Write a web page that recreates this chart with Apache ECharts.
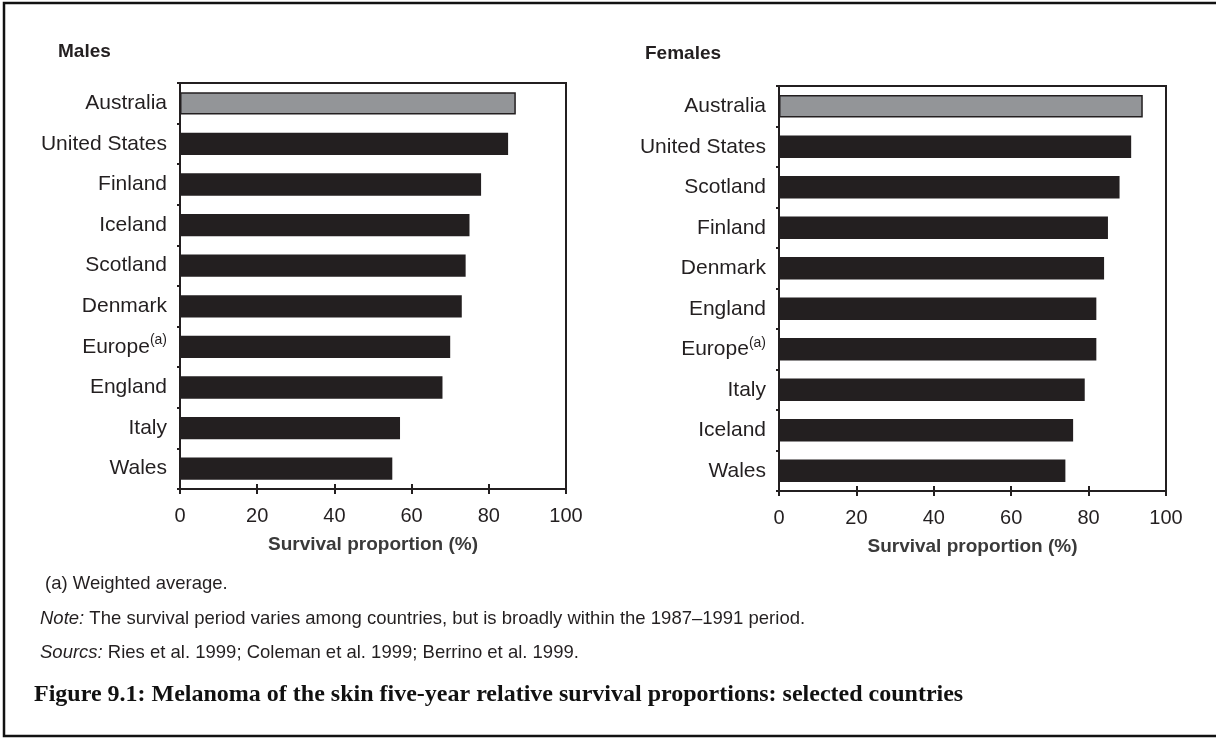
<!DOCTYPE html>
<html>
<head>
<meta charset="utf-8">
<script src="https://cdn.jsdelivr.net/npm/echarts@6/dist/echarts.min.js"></script>
<style>html,body{margin:0;padding:0;background:#fff}#c{width:1216px;height:740px}</style>
</head>
<body>
<div id="c"></div>
<script>
const maleCategories = ['Australia','United States','Finland','Iceland','Scotland','Denmark','Europe(a)','England','Italy','Wales'];
const maleValues = [87,85,78,75,74,73,70,68,57,55];
const femaleCategories = ['Australia','United States','Scotland','Finland','Denmark','England','Europe(a)','Italy','Iceland','Wales'];
const femaleValues = [94,91,88,85,84,82,82,79,76,74];
const xTicks = [0,20,40,60,80,100];
const highlight = 'Australia';

const INK = '#231f20';
const GREY = '#939598';
const FONT = 'Liberation Sans, Arial, sans-serif';

function catLabel(v){
  if (v.indexOf('(a)') >= 0) return '{n|' + v.replace('(a)','') + '}{s|(a)}';
  return '{n|' + v + '}';
}
function barData(cats, vals){
  return vals.map((v,i)=>({
    value: v,
    itemStyle: cats[i] === highlight ? {color: GREY, borderColor: INK, borderWidth: 1.5} : {color: INK}
  }));
}
const grids = [
  {left:180, top:83, width:386, height:406},
  {left:779, top:86, width:387, height:405}
];
const xAxes = [], yAxes = [], series = [];
[[maleCategories, maleValues],[femaleCategories, femaleValues]].forEach((d, gi)=>{
  const base = {
    type:'value', gridIndex: gi, position:'bottom', min: xTicks[0], max: xTicks[xTicks.length-1], interval: 20,
    splitLine:{show:false},
    axisLine:{show:true, lineStyle:{color:INK, width:2}},
  };
  xAxes.push(Object.assign({}, base, {
    axisTick:{show:true, length:5, lineStyle:{color:INK, width:2}},
    axisLabel:{color:INK, fontSize:20, fontFamily:FONT, margin:17},
    name:'Survival proportion (%)', nameLocation:'middle', nameGap:46,
    nameTextStyle:{color:'#3a3a3a', fontSize:19, fontWeight:'bold', fontFamily:FONT}
  }));
  xAxes.push(Object.assign({}, base, {
    axisTick:{show:true, inside:true, length:5, lineStyle:{color:INK, width:2}},
    axisLabel:{show:false}
  }));
  yAxes.push({
    type:'category', gridIndex: gi, data: d[0], inverse: true,
    axisLine:{show:true, lineStyle:{color:INK, width:2}},
    axisTick:{show:true, length:3, lineStyle:{color:INK, width:2}},
    axisLabel:{margin:13, formatter: catLabel, rich:{
      n:{fontSize:21, color:INK, fontFamily:FONT},
      s:{fontSize:14, color:INK, fontFamily:FONT, padding:[0,0,13,0]}
    }}
  });
  series.push({
    type:'bar', xAxisIndex: gi*2, yAxisIndex: gi, data: barData(d[0], d[1]),
    barWidth:'55%', animation:false
  });
});

const chart = echarts.init(document.getElementById('c'), null, {renderer:'canvas'});
chart.setOption({
  backgroundColor:'#fff',
  animation:false,
  title:[
    {text:'Males', left:58, top:42, padding:0, textStyle:{fontSize:19, fontWeight:'bold', color:INK, fontFamily:FONT}},
    {text:'Females', left:645, top:44, padding:0, textStyle:{fontSize:19, fontWeight:'bold', color:INK, fontFamily:FONT}}
  ],
  grid: grids.map(g=>Object.assign({show:true, borderColor:INK, borderWidth:2, backgroundColor:'transparent'}, g)),
  xAxis: xAxes,
  yAxis: yAxes,
  series: series,
  graphic:[
    {type:'rect', shape:{x:4, y:3, width:1220, height:733}, style:{fill:'none', stroke:'#111', lineWidth:2.5}, silent:true},
    {type:'text', left:45, top:574, style:{text:'(a) Weighted average.', fontSize:18.5, fontFamily:FONT, fill:INK}},
    {type:'text', left:40, top:609, style:{
      text:'{i|Note:} The survival period varies among countries, but is broadly within the 1987–1991 period.',
      fontSize:18.5, fontFamily:FONT, fill:INK,
      rich:{i:{fontStyle:'italic', fontSize:18.5, fontFamily:FONT, fill:INK}}
    }},
    {type:'text', left:40, top:643, style:{
      text:'{i|Sourcs:} Ries et al. 1999; Coleman et al. 1999; Berrino et al. 1999.',
      fontSize:18.5, fontFamily:FONT, fill:INK,
      rich:{i:{fontStyle:'italic', fontSize:18.5, fontFamily:FONT, fill:INK}}
    }},
    {type:'text', left:34, top:683, style:{
      text:'Figure 9.1: Melanoma of the skin five-year relative survival proportions: selected countries',
      fontSize:24, fontWeight:'bold', fontFamily:'Liberation Serif, Times New Roman, serif', fill:'#111'
    }}
  ]
});
</script>
</body>
</html>
